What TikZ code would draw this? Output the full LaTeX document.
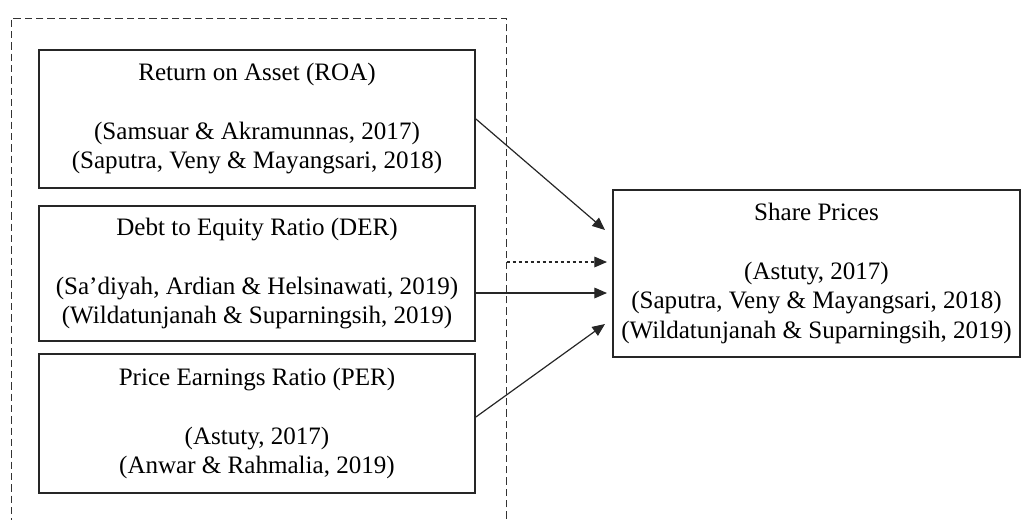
\documentclass[tikz,border=0pt]{standalone}
\usepackage{fontspec}
\setmainfont{Liberation Serif}
\usetikzlibrary{arrows.meta}

\begin{document}
\begin{tikzpicture}[x=0.75pt, y=-0.75pt]
    \tikzstyle{block} = [rectangle, draw=black!85, line width=1.4pt, inner sep=0pt, align=center, font=\fontsize{18.8}{22}\selectfont]
    \tikzstyle{arrow} = [-{Triangle[length=9.5pt, width=8pt]}, line width=0.9pt, draw=black!85]
    \useasboundingbox (0,0) rectangle (1022,519);

    % Frame (runs off the bottom edge)
    \node[draw=black!80, line width=0.75pt, dash pattern=on 5.5pt off 3pt, minimum width=371.25pt, minimum height=395.25pt] (frame) at (258.5,281.5) {};

    % ROA
    \node[block, minimum width=327pt, minimum height=103.5pt] (roa) at (257,119) {Return on Asset (ROA)\\[22pt](Samsuar \& Akramunnas, 2017)\\(Saputra, Veny \& Mayangsari, 2018)};

    % DER
    \node[block, minimum width=327pt, minimum height=101.25pt] (der) at (257,273.5) {Debt to Equity Ratio (DER)\\[22pt](Sa’diyah, Ardian \& Helsinawati, 2019)\\(Wildatunjanah \& Suparningsih, 2019)};

    % PER
    \node[block, minimum width=327pt, minimum height=104.25pt] (per) at (257,423.5) {Price Earnings Ratio (PER)\\[22pt](Astuty, 2017)\\(Anwar \& Rahmalia, 2019)};

    % Share prices
    \node[block, minimum width=305.25pt, minimum height=125.25pt] (share) at (816.5,273.5) {Share Prices\\[22pt](Astuty, 2017)\\(Saputra, Veny \& Mayangsari, 2018)\\(Wildatunjanah \& Suparningsih, 2019)};

    % Arrow ends
    \coordinate (inA) at (605,230);
    \coordinate (inB) at (607,262);
    \coordinate (inC) at (607,293);
    \coordinate (inD) at (605,324);

    % Arrows
    \draw[arrow] (roa.east) -- (inA);
    \draw[arrow, dash pattern=on 2.5pt off 2pt] (frame.east |- inB) -- (inB);
    \draw[arrow] (der.east |- inC) -- (inC);
    \draw[arrow] ([yshift=4.9pt]per.east) -- (inD);
\end{tikzpicture}
\end{document}
